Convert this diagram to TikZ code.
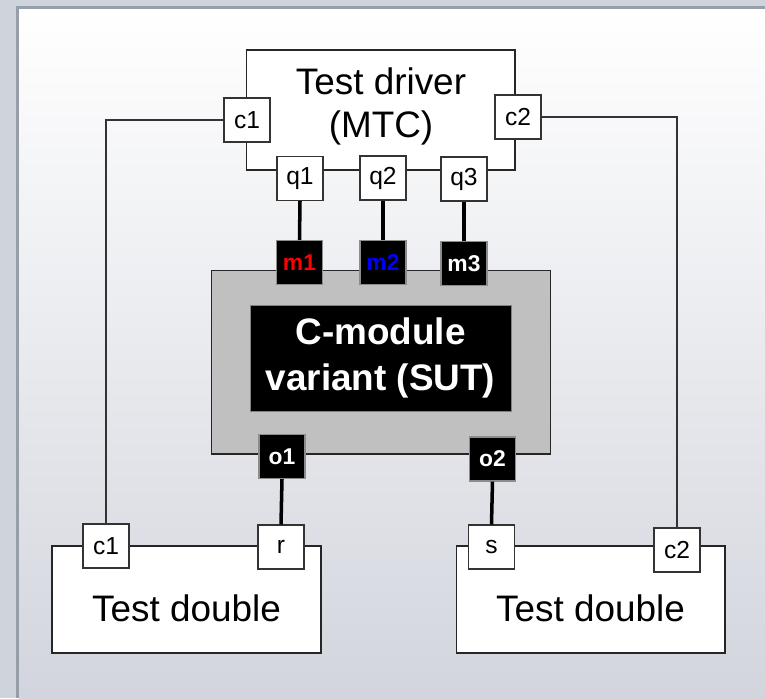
\documentclass[tikz,border=0pt]{standalone}
\usepackage{fontspec}
\setmainfont{Liberation Sans}
\usepackage{xcolor}
\usetikzlibrary{positioning}
\definecolor{frameband}{RGB}{207,211,219}
\definecolor{frameline}{RGB}{150,158,168}
\definecolor{bgbottom}{RGB}{210,213,221}
\definecolor{sutgray}{RGB}{192,192,192}

\begin{document}
\begin{tikzpicture}[x=0.02cm, y=-0.02cm,
    port/.style={draw=black!80, fill=white, line width=0.6pt, inner sep=0pt,
      minimum width=0.92cm, minimum height=0.88cm, font=\fontsize{14}{16}\selectfont},
    blackport/.style={draw=black!45, fill=black, line width=0.6pt, inner sep=0pt,
      minimum width=0.92cm, minimum height=0.88cm, font=\fontsize{13}{15}\selectfont\bfseries},
    unitbox/.style={draw=black!85, fill=white, line width=0.6pt,
      minimum width=5.38cm},
    bigtext/.style={font=\fontsize{21}{24.5}\selectfont, align=center},
    wire/.style={draw=black!80, line width=0.6pt},
    bus/.style={draw=black, line width=2pt}]
  \useasboundingbox (0,0) rectangle (765,698);
  \fill[frameband] (0,0) rectangle (765,698);
  \fill[frameline] (16,6) rectangle (765,698);
  \shade[top color=white, bottom color=bgbottom] (19,9) rectangle (765,698);

  \node[unitbox, minimum height=2.4cm] (mtc) at (380.5,110) {};
  \node[bigtext] at (381,106) {Test driver\\(MTC)};
  \node[port] (c1t) at (247,120) {c1};
  \node[port] (c2t) at (518,117) {c2};
  \node[port] (q1) at (300,178.5) {q1};
  \node[port] (q2) at (383,178) {q2};
  \node[port] (q3) at (464,179) {q3};

  \node[draw=black!85, fill=sutgray, line width=0.6pt, minimum width=6.8cm,
    minimum height=3.68cm] (sut) at (381,362) {};
  \node[draw=black!50, fill=black, text=white, minimum width=5.22cm, minimum height=2.12cm,
    font=\fontsize{21}{26}\selectfont\bfseries, align=center] (core) at (380.5,358)
    {C-module\\variant (SUT)};
  \node[blackport, text=red] (m1) at (299.5,262.5) {m1};
  \node[blackport, text=blue] (m2) at (383,262.5) {m2};
  \node[blackport, text=white] (m3) at (464,263.5) {m3};
  \node[blackport, text=white] (o1) at (282,456.5) {o1};
  \node[blackport, text=white] (o2) at (492.5,459) {o2};

  \node[unitbox, minimum height=2.14cm] (tdl) at (186.5,599.5) {};
  \node[unitbox, minimum height=2.14cm] (tdr) at (590.5,599.5) {};
  \node[bigtext] at (186.5,608) {Test double};
  \node[bigtext] at (590.5,608) {Test double};
  \node[port] (c1b) at (106,546) {c1};
  \node[port] (r) at (281,547) {r};
  \node[port] (s) at (491.5,547) {s};
  \node[port] (c2b) at (677,550) {c2};

  \draw[wire] (c1t.west) -| (c1b.north);
  \draw[wire] (c2t.east) -| (c2b.north);
  \draw[bus] (q1.south) -- (m1.north);
  \draw[bus] (q2.south) -- (m2.north);
  \draw[bus] (q3.south) -- (m3.north);
  \draw[bus] (o1.south) -- (r.north);
  \draw[bus] (o2.south) -- (s.north);
\end{tikzpicture}
\end{document}
